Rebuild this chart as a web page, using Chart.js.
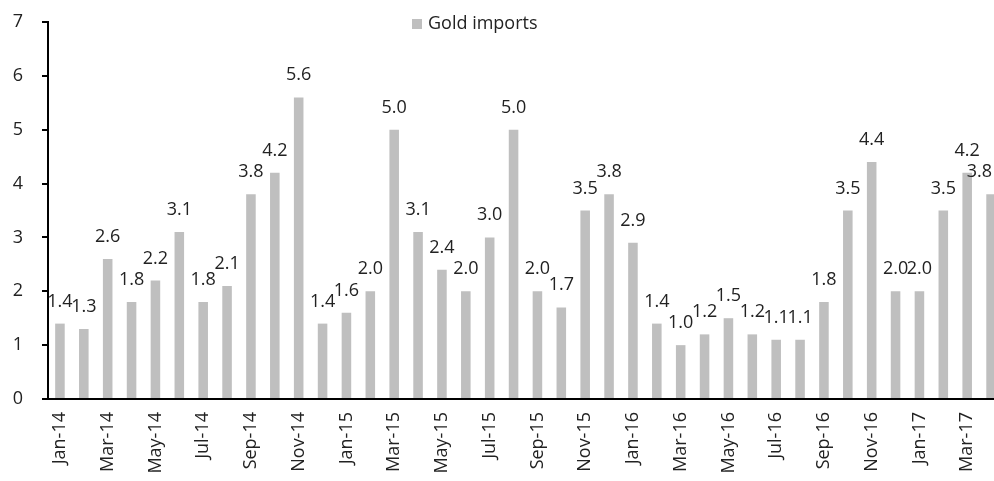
<!DOCTYPE html>
<html>
<head>
<meta charset="utf-8">
<script src="https://cdn.jsdelivr.net/npm/chart.js@4"></script>
<style>
  html, body { margin: 0; padding: 0; background: #fff; overflow: hidden; }
  #wrap { width: 1003px; height: 481px; position: relative; }
</style>
</head>
<body>
<div id="wrap"><canvas id="chart"></canvas></div>
<script>
var months = ["Jan-14", "Feb-14", "Mar-14", "Apr-14", "May-14", "Jun-14", "Jul-14", "Aug-14", "Sep-14", "Oct-14", "Nov-14", "Dec-14",
	"Jan-15", "Feb-15", "Mar-15", "Apr-15", "May-15", "Jun-15", "Jul-15", "Aug-15", "Sep-15", "Oct-15", "Nov-15", "Dec-15",
	"Jan-16", "Feb-16", "Mar-16", "Apr-16", "May-16", "Jun-16", "Jul-16", "Aug-16", "Sep-16", "Oct-16", "Nov-16", "Dec-16",
	"Jan-17", "Feb-17", "Mar-17", "Apr-17"];

var goldImports = [1.4, 1.3, 2.6, 1.8, 2.2, 3.1, 1.8, 2.1, 3.8, 4.2, 5.6, 1.4,
	1.6, 2.0, 5.0, 3.1, 2.4, 2.0, 3.0, 5.0, 2.0, 1.7, 3.5, 3.8,
	2.9, 1.4, 1.0, 1.2, 1.5, 1.2, 1.1, 1.1, 1.8, 3.5, 4.4, 2.0,
	2.0, 3.5, 4.2, 3.8];

var yTicks = [0, 1, 2, 3, 4, 5, 6, 7];

var FONT = "'Open Sans'";
var barColor = "#BFBFBF";
var VISIBLE_W = 994;

// value labels above each bar, kept inside the visible page
var valueLabels = {
	id: "valueLabels",
	afterDatasetsDraw: function (chart) {
		var ctx = chart.ctx;
		var meta = chart.getDatasetMeta(0);
		ctx.save();
		ctx.font = "18px " + FONT;
		ctx.fillStyle = "#222";
		ctx.textAlign = "center";
		ctx.textBaseline = "alphabetic";
		meta.data.forEach(function (bar, i) {
			var txt = goldImports[i].toFixed(1);
			var half = ctx.measureText(txt).width / 2;
			var x = Math.min(bar.x, VISIBLE_W - 2 - half);
			ctx.fillText(txt, x, bar.y - 17);
		});
		ctx.restore();
	}
};

// small legend sitting inside the plot
var insideLegend = {
	id: "insideLegend",
	afterDraw: function (chart) {
		var ctx = chart.ctx;
		var ds = chart.data.datasets[0];
		ctx.save();
		ctx.fillStyle = ds.backgroundColor;
		ctx.fillRect(412, 19, 10, 10);
		ctx.font = "18px " + FONT;
		ctx.fillStyle = "#222";
		ctx.textAlign = "left";
		ctx.textBaseline = "middle";
		ctx.fillText(ds.label, 428, 24);
		ctx.restore();
	}
};

function noPad(scale) {
	scale.paddingTop = 0;
	scale.paddingBottom = 0;
	scale.paddingLeft = 0;
	scale.paddingRight = 0;
}

var chart = new Chart(document.getElementById("chart"), {
	type: "bar",
	data: {
		labels: months,
		datasets: [{
			label: "Gold imports",
			data: goldImports,
			backgroundColor: barColor,
			borderWidth: 0,
			barPercentage: 0.4,
			categoryPercentage: 1.0
		}]
	},
	options: {
		responsive: true,
		maintainAspectRatio: false,
		animation: false,
		layout: {
			padding: { top: 22, right: 0, bottom: 0, left: 0 }
		},
		plugins: {
			legend: { display: false },
			tooltip: { enabled: false }
		},
		scales: {
			x: {
				afterFit: function (scale) {
					noPad(scale);
					scale.height = 82;
				},
				grid: { display: false, drawTicks: false },
				border: { display: true, color: "#000", width: 2 },
				ticks: {
					autoSkip: false,
					minRotation: 90,
					maxRotation: 90,
					padding: 13,
					color: "#222",
					font: { family: FONT, size: 18 },
					callback: function (val, i) {
						return i % 2 === 0 ? months[i] : "";
					}
				}
			},
			y: {
				min: 0,
				max: 7,
				afterBuildTicks: function (scale) {
					scale.ticks = yTicks.map(function (v) { return { value: v }; });
				},
				afterFit: function (scale) {
					noPad(scale);
					scale.width = 48;
				},
				grid: {
					drawOnChartArea: false,
					drawTicks: true,
					tickLength: 6,
					color: "#000",
					lineWidth: 2
				},
				border: { display: true, color: "#000", width: 2 },
				ticks: {
					padding: 19,
					color: "#222",
					font: { family: FONT, size: 18 }
				}
			}
		}
	},
	plugins: [valueLabels, insideLegend]
});
</script>
</body>
</html>
